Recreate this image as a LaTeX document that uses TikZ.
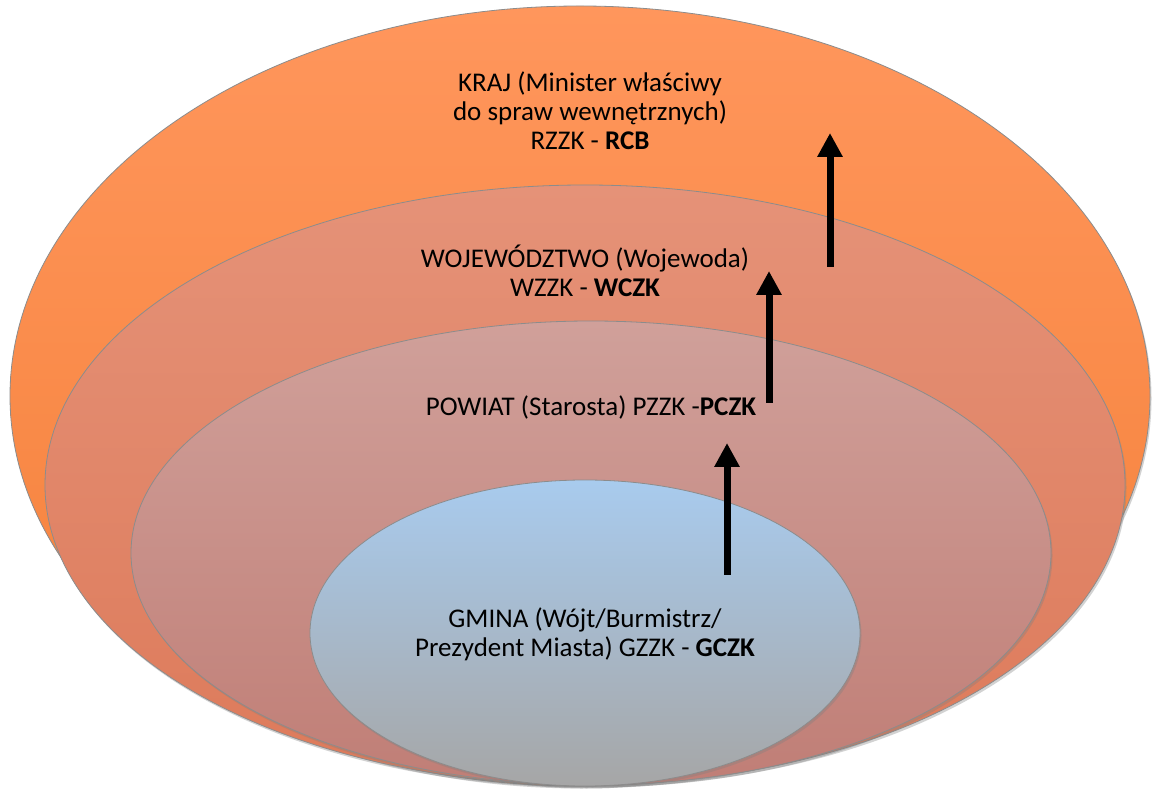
\documentclass[tikz,border=0pt]{standalone}
\usepackage{fontspec}
\setmainfont{Carlito}
\usetikzlibrary{arrows.meta, shapes.geometric, shadows}

\definecolor{krajTop}{RGB}{255,150,92}
\definecolor{krajBot}{RGB}{244,128,56}
\definecolor{wojTop}{RGB}{229,146,120}
\definecolor{wojBot}{RGB}{221,122,90}
\definecolor{powTop}{RGB}{208,160,154}
\definecolor{powBot}{RGB}{192,126,118}
\definecolor{gmTop}{RGB}{168,203,238}
\definecolor{gmBot}{RGB}{166,166,166}

\begin{document}
\begin{tikzpicture}[x=1pt, y=1pt,
    level/.style={ellipse, inner sep=0pt, draw=black!45, line width=0.8pt,
        drop shadow={shadow xshift=1.5pt, shadow yshift=-2.5pt, opacity=0.35}},
    leveltext/.style={align=center, font=\fontsize{27}{29}\selectfont},
    uparrow/.style={-{Triangle[width=24pt,length=24pt]}, line width=7pt}]
    \useasboundingbox (0,0) rectangle (1153,790);
    \fill[white] (0,0) rectangle (1153,790);
    % nested levels
    \node[level, minimum width=1140pt, minimum height=780pt, top color=krajTop, bottom color=krajBot] (kraj) at (580,394) {};
    \node[level, minimum width=1080pt, minimum height=600pt, top color=wojTop, bottom color=wojBot] (woj) at (585,305) {};
    \node[level, minimum width=920pt, minimum height=464pt, top color=powTop, bottom color=powBot] (pow) at (591,237) {};
    \node[level, minimum width=550pt, minimum height=306pt, top color=gmTop, bottom color=gmBot] (gmina) at (585,157) {};
    % labels
    \node[leveltext] (krajtxt) at (590,679) {KRAJ (Minister właściwy\\do spraw wewnętrznych)\\RZZK - \textbf{RCB}};
    \node[leveltext] (wojtxt) at (585,519) {WOJEWÓDZTWO (Wojewoda)\\WZZK - \textbf{WCZK}};
    \node[leveltext] (powtxt) at (591,383) {POWIAT (Starosta) PZZK -\textbf{PCZK}};
    \node[leveltext] (gminatxt) at (585,156) {GMINA (Wójt/Burmistrz/\\Prezydent Miasta) GZZK - \textbf{GCZK}};
    % arrows
    \coordinate (g2p) at (727,215);
    \coordinate (p2w) at (727,347);
    \coordinate (w1) at (769,387);
    \coordinate (w2) at (769,519);
    \coordinate (k1) at (830,523);
    \coordinate (k2) at (830,657);
    \draw[uparrow] (g2p) -- (p2w);
    \draw[uparrow] (w1) -- (w2);
    \draw[uparrow] (k1) -- (k2);
\end{tikzpicture}
\end{document}
